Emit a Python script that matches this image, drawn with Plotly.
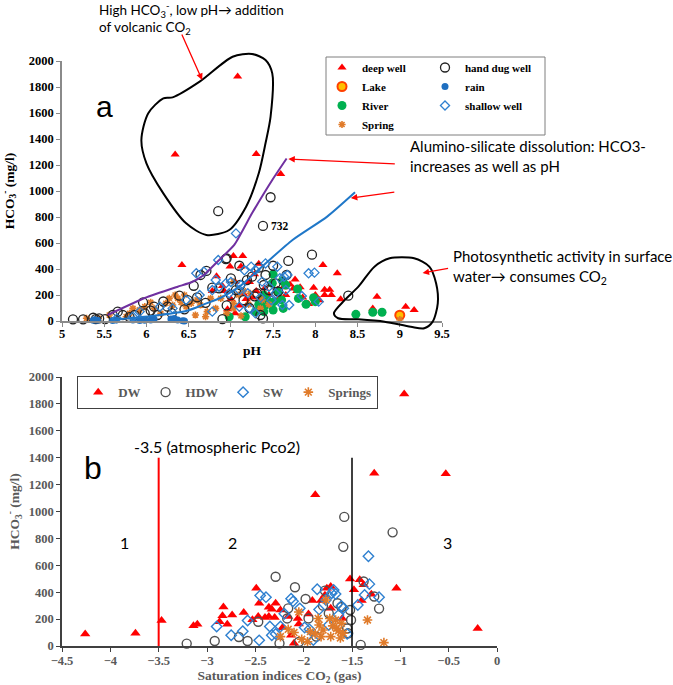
import plotly.graph_objects as go

W, H = 673, 685

# ---------------- Panel a : pH vs HCO3 ----------------
deep_well = [(7.08, 1880), (6.34, 1280), (7.30, 1285), (7.59, 1130), (6.42, 430), (7.03, 500), (7.14, 500),
             (6.99, 420), (7.12, 420), (7.33, 440), (7.28, 360), (6.83, 345), (6.78, 230), (6.90, 270),
             (7.05, 300), (7.22, 300), (7.30, 230), (7.40, 250), (7.48, 300), (7.55, 240), (7.62, 260),
             (7.70, 280), (7.74, 250), (7.78, 230), (7.82, 260), (7.76, 320), (7.98, 256), (8.00, 200),
             (8.09, 430), (8.11, 240), (8.17, 240), (8.19, 200), (8.11, 200), (8.26, 367), (8.30, 167),
             (8.73, 187), (8.68, 97), (9.07, 110), (9.17, 85), (7.00, 170), (7.10, 120), (7.18, 170),
             (7.26, 180), (6.96, 90), (7.05, 60), (7.20, 130), (7.35, 160), (7.45, 200), (7.58, 180),
             (7.65, 200), (7.85, 180), (7.92, 130), (8.05, 160), (6.92, 230), (7.15, 210)]
hand_dug_well = [(5.13, 13), (5.25, 13), (5.37, 25), (5.40, 15), (5.44, 20), (5.51, 15), (5.60, 46), (5.66, 72),
                 (5.72, 46), (5.86, 46), (5.96, 143), (5.98, 58), (6.09, 110), (6.13, 46), (6.25, 110),
                 (6.39, 195), (6.49, 161), (6.56, 271), (6.64, 354), (6.71, 385), (6.60, 182), (6.78, 256),
                 (6.86, 251), (6.94, 477), (6.90, 15), (7.00, 328), (7.38, 731), (6.95, 482), (7.10, 425),
                 (7.33, 410), (7.50, 425), (7.41, 354), (7.53, 290), (7.96, 510), (7.66, 354), (7.45, 238),
                 (7.00, 200), (7.06, 238), (7.11, 277), (7.19, 315), (7.25, 341), (7.31, 213), (7.39, 277),
                 (7.35, 46), (7.38, 20), (8.39, 195), (7.56, 226), (6.85, 845), (7.47, 952), (7.68, 462),
                 (6.30, 60), (6.45, 90), (6.70, 140), (6.95, 120), (7.15, 160), (7.22, 100), (7.28, 190),
                 (6.20, 150), (6.05, 80), (5.80, 30)]
lake = [(9.00, 45)]
rain = [(5.37, 5), (5.39, 10), (5.42, 6), (5.60, 4), (5.64, 8), (5.84, 8), (5.92, 4), (5.98, 6), (6.05, 8),
        (6.09, 16), (6.29, 16), (6.33, 20), (6.37, 8), (6.43, 2), (6.45, 0)]
river = [(6.98, 33), (7.17, 33), (7.39, 72), (7.41, 123), (7.50, 359), (7.49, 290), (7.39, 200), (7.43, 162),
         (7.51, 149), (7.60, 162), (7.62, 97), (7.50, 85), (7.79, 246), (7.89, 128), (7.98, 179), (8.00, 149),
         (8.48, 51), (8.68, 67), (8.79, 67), (7.33, 128), (7.29, 72), (7.56, 226), (7.65, 277), (7.61, 310),
         (7.80, 174)]
shallow_well = [(7.06, 674), (6.85, 469), (6.59, 367), (6.82, 315), (6.94, 290), (7.10, 238), (7.24, 418),
                (7.29, 392), (7.41, 443), (7.55, 418), (7.63, 341), (7.67, 354), (7.92, 367), (7.99, 372),
                (8.04, 149), (7.84, 192), (7.10, 110), (7.22, 97), (7.29, 59), (6.78, 72), (6.31, 97),
                (6.16, 110), (6.47, 162), (6.63, 200), (6.78, 238), (6.86, 264), (6.98, 213), (7.12, 277),
                (7.20, 213), (7.37, 303), (7.45, 264), (7.53, 213), (7.61, 123), (7.69, 123), (7.65, 238),
                (5.92, 72), (5.65, 20), (5.84, 33), (7.00, 300), (7.16, 390), (6.68, 380), (7.35, 180),
                (7.48, 160), (7.58, 330)]
spring = [(5.29, 21), (5.43, 21), (5.56, 46), (5.76, 33), (5.80, 59), (5.84, 97), (5.92, 85), (5.98, 110),
          (6.05, 144), (6.09, 97), (6.17, 59), (6.23, 136), (6.27, 174), (6.31, 123), (6.34, 200), (6.37, 174),
          (6.41, 144), (6.45, 200), (6.47, 110), (6.53, 136), (6.58, 46), (6.60, 162), (6.64, 123), (6.72, 72),
          (6.76, 174), (6.82, 97), (6.70, 33), (6.88, 174), (7.03, 302), (7.09, 200), (7.15, 231), (7.23, 213),
          (7.37, 162), (7.45, 128), (7.03, 136), (7.21, 128), (7.35, 97), (7.03, 97), (6.95, 60), (7.12, 40),
          (9.00, 10)]

# trend curves
curve_purple = [(5.54, 46), (5.98, 177), (6.37, 264), (6.54, 300), (6.68, 354), (6.84, 456), (7.04, 585),
                (7.25, 828), (7.49, 1085), (7.66, 1250)]
curve_blue = [(5.58, 8), (6.09, 41), (6.48, 79), (6.68, 128), (6.88, 179), (7.10, 264), (7.41, 443),
              (7.73, 623), (8.14, 803), (8.47, 990)]
# hand-drawn outlines (data units)
blob_volcanic = [(6.20, 1713), (6.31, 1720), (6.63, 1841), (7.02, 2033), (7.25, 2054), (7.41, 2008), (7.49, 1905),
                 (7.47, 1572), (7.41, 1367), (7.33, 1136), (7.18, 879), (6.98, 700), (6.71, 662), (6.47, 751),
                 (6.20, 982), (6.00, 1213), (5.94, 1392), (6.02, 1597), (6.20, 1713)]
blob_photo = [(8.88, 482), (9.17, 482), (9.35, 418), (9.43, 290), (9.45, 136), (9.39, -5), (9.29, -56),
              (9.13, -44), (8.82, -5), (8.51, 13), (8.27, 21), (8.22, 59), (8.35, 162), (8.51, 264),
              (8.70, 418), (8.88, 482)]

# ---------------- Panel b : SI CO2 vs HCO3 ----------------
dw_b = [(-4.26, 90), (-3.74, 95), (-3.47, 190), (-3.14, 150), (-3.10, 162), (-2.83, 290), (-2.84, 225),
        (-2.87, 180), (-2.79, 162), (-2.74, 230), (-2.62, 250), (-2.49, 430), (-2.46, 318), (-2.47, 220),
        (-2.53, 195), (-2.36, 288), (-2.33, 273), (-2.36, 220), (-2.40, 212), (-2.30, 212), (-2.29, 318),
        (-2.24, 268), (-2.22, 136), (-2.16, 220), (-2.13, 80), (-2.10, 20), (-2.06, 205), (-2.05, 163),
        (-1.95, 238), (-1.91, 338), (-1.88, 1125), (-1.82, 338), (-1.78, 378), (-1.76, 430), (-1.72, 443),
        (-1.72, 280), (-1.60, 205), (-1.52, 498), (-1.48, 418), (-1.42, 493), (-1.40, 338), (-1.38, 455),
        (-1.30, 385), (-1.27, 1285), (-1.04, 430), (-0.96, 1873), (-0.53, 1280), (-0.20, 130)]
hdw_b = [(-3.21, 18), (-2.92, 37), (-2.67, 67), (-2.58, 37), (-2.47, 180), (-2.29, 515), (-2.25, 20),
         (-2.17, 205), (-2.16, 280), (-2.09, 437), (-1.98, 350), (-1.95, 205), (-1.87, 70), (-1.78, 412),
         (-1.74, 243), (-1.65, 318), (-1.61, 290), (-1.59, 737), (-1.58, 960), (-1.54, 95), (-1.52, 268),
         (-1.51, 193), (-1.41, 8), (-1.38, 480), (-1.27, 368), (-1.22, 278), (-1.08, 845), (-1.80, 300),
         (-2.05, 30), (-1.55, 130)]
sw_b = [(-2.90, 145), (-2.75, 80), (-2.63, 110), (-2.58, 190), (-2.46, 42), (-2.45, 375), (-2.39, 363),
        (-2.35, 145), (-2.33, 80), (-2.29, 90), (-2.24, 145), (-2.13, 352), (-2.11, 332), (-2.04, 280),
        (-1.99, 138), (-1.94, 124), (-1.86, 422), (-1.84, 272), (-1.74, 156), (-1.71, 392), (-1.69, 416),
        (-1.67, 387), (-1.64, 230), (-1.61, 297), (-1.59, 280), (-1.44, 305), (-1.37, 380), (-1.33, 667),
        (-1.32, 460), (-1.22, 362), (-1.77, 342), (-1.90, 45), (-2.20, 240), (-1.55, 90)]
springs_b = [(-2.24, 70), (-2.16, 124), (-2.05, 253), (-2.02, 50), (-1.96, 32), (-1.93, 107), (-1.85, 205),
             (-1.84, 156), (-1.82, 70), (-1.80, 119), (-1.77, 342), (-1.73, 205), (-1.72, 70), (-1.67, 193),
             (-1.66, 131), (-1.64, 114), (-1.61, 168), (-1.59, 95), (-1.34, 193), (-1.17, 25), (-1.88, 90),
             (-1.70, 150), (-2.10, 100), (-1.62, 60)]
atm_pco2 = -3.5
boundary_23 = -1.5
line_top = 1400

ticks_ph = [5, 5.5, 6, 6.5, 7, 7.5, 8, 8.5, 9, 9.5]
ticks_si = [-4.5, -4, -3.5, -3, -2.5, -2, -1.5, -1, -0.5, 0]
ticks_hco3 = list(range(0, 2001, 200))


def xs(p):
    return [v[0] for v in p]


def ys(p):
    return [v[1] for v in p]


RED = "#FF0000"
BLUE = "#2F80D0"
ORANGE = "#E07B2A"
GREEN = "#00B050"
SERIF = "Liberation Serif"
SANS = "Lato"

fig = go.Figure()


def pts(data, name, marker, xa="x", ya="y", legend="legend"):
    fig.add_trace(go.Scatter(x=xs(data), y=ys(data), mode="markers", name=name, marker=marker,
                             xaxis=xa, yaxis=ya, legend=legend, cliponaxis=False))


# panel a traces (legend column 1 / column 2)
pts(deep_well, "deep well", dict(symbol="triangle-up", color=RED, size=8), legend="legend")
pts(lake, "Lake", dict(symbol="circle", color="#FFC000", size=9, line=dict(color="#FF4000", width=2)), legend="legend")
pts(river, "River", dict(symbol="circle", color=GREEN, size=9), legend="legend")
pts(spring, "Spring", dict(symbol="asterisk-open", color=ORANGE, size=6, line=dict(color=ORANGE, width=1.6)), legend="legend")
pts(hand_dug_well, "hand dug well", dict(symbol="circle-open", color="#222222", size=9, line=dict(width=1.3)), legend="legend2")
pts(rain, "rain", dict(symbol="circle", color="#1F6FC0", size=7), legend="legend2")
pts(shallow_well, "shallow well", dict(symbol="diamond-open", color=BLUE, size=7, line=dict(width=1.3)), legend="legend2")

fig.add_trace(go.Scatter(x=xs(curve_purple), y=ys(curve_purple), mode="lines", showlegend=False,
                         line=dict(color="#7030A0", width=2, shape="spline", smoothing=0.5)))
fig.add_trace(go.Scatter(x=xs(curve_blue), y=ys(curve_blue), mode="lines", showlegend=False,
                         line=dict(color="#1F77C8", width=2, shape="spline", smoothing=0.6)))
for blob in (blob_volcanic, blob_photo):
    fig.add_trace(go.Scatter(x=xs(blob), y=ys(blob), mode="lines", showlegend=False, xaxis="x3", yaxis="y3",
                             line=dict(color="black", width=2, shape="spline", smoothing=0.8)))

# panel b traces
pts(dw_b, "DW", dict(symbol="triangle-up", color=RED, size=9), xa="x2", ya="y2", legend="legend3")
pts(hdw_b, "HDW", dict(symbol="circle-open", color="#505050", size=9, line=dict(width=1.4)), xa="x2", ya="y2", legend="legend3")
pts(sw_b, "SW", dict(symbol="diamond-open", color=BLUE, size=8, line=dict(width=1.4)), xa="x2", ya="y2", legend="legend3")
pts(springs_b, "Springs", dict(symbol="asterisk-open", color=ORANGE, size=8, line=dict(color=ORANGE, width=1.6)),
    xa="x2", ya="y2", legend="legend3")

# ---------------- layout ----------------
dom_ax = [62 / W, 442 / W]
dom_ay = [1 - 321 / H, 1 - 61 / H]
dom_bx = [62 / W, 497 / W]
dom_by = [1 - 646 / H, 1 - 377 / H]
rng_ax = [5, 9.5]
rng_y = [0, 2000]
rng_bx = [-4.5, 0]


def widen(dom, rng, pad):
    k = (rng[1] - rng[0]) / (dom[1] - dom[0])
    return [dom[0] - pad, dom[1] + pad], [rng[0] - pad * k, rng[1] + pad * k]


ov_xd, ov_xr = widen(dom_ax, rng_ax, 0.03)
ov_yd, ov_yr = widen(dom_ay, rng_y, 0.03)

tick_a = dict(family=SERIF, size=12.5, color="black", weight="bold")
tick_b = dict(family=SERIF, size=12.5, color="#595959", weight="bold")
title_a = dict(family=SERIF, size=13.5, color="black", weight="bold")
title_b = dict(family=SERIF, size=13.5, color="#595959", weight="bold")

common_a = dict(showgrid=False, zeroline=False, showline=True, linecolor="#8A8A8A", linewidth=1.5,
                ticks="outside", ticklen=4, tickcolor="#8A8A8A", tickfont=tick_a, automargin=False)
common_b = dict(showgrid=False, zeroline=False, showline=True, linecolor="#404040", linewidth=1.5,
                ticks="outside", ticklen=4, tickcolor="#404040", tickfont=tick_b, automargin=False)

fig.update_layout(
    width=W, height=H, template="none",
    margin=dict(l=0, r=0, t=0, b=0, autoexpand=False),
    paper_bgcolor="white", plot_bgcolor="rgba(0,0,0,0)",
    xaxis=dict(domain=dom_ax, range=rng_ax, tickvals=ticks_ph, anchor="y", ticklabelstandoff=-4,
               title=dict(text="pH", font=title_a, standoff=6), **common_a),
    yaxis=dict(domain=dom_ay, range=rng_y, tickvals=ticks_hco3, anchor="x",
               title=dict(text="HCO<sub>3</sub><sup>-</sup> (mg/l)", font=title_a, standoff=12), **common_a),
    xaxis2=dict(domain=dom_bx, range=rng_bx, tickvals=ticks_si, anchor="y2", ticklabelstandoff=-2,
                title=dict(text="Saturation indices CO<sub>2</sub> (gas)", font=title_b, standoff=7), **common_b),
    yaxis2=dict(domain=dom_by, range=rng_y, tickvals=ticks_hco3, anchor="x2",
                title=dict(text="HCO<sub>3</sub><sup>-</sup> (mg/l)", font=title_b, standoff=6), **common_b),
    xaxis3=dict(domain=ov_xd, range=ov_xr, visible=False, anchor="y3"),
    yaxis3=dict(domain=ov_yd, range=ov_yr, visible=False, anchor="x3"),
    legend=dict(x=322 / W, y=1 - 53 / H, xanchor="left", yanchor="top", bgcolor="rgba(0,0,0,0)",
                font=dict(family=SERIF, size=11, color="black", weight="bold"), tracegroupgap=0, borderwidth=0),
    legend2=dict(x=425 / W, y=1 - 53 / H, xanchor="left", yanchor="top", bgcolor="rgba(0,0,0,0)",
                 font=dict(family=SERIF, size=11, color="black", weight="bold"), tracegroupgap=0, borderwidth=0),
    legend3=dict(x=77 / W, y=1 - 376 / H, xanchor="left", yanchor="top", orientation="h", bgcolor="white",
                 bordercolor="#404040", borderwidth=1.2,
                 font=dict(family=SERIF, size=13, color="#595959", weight="bold")),
    showlegend=True,
)

# legend frame of panel a
fig.add_shape(type="rect", xref="paper", yref="paper", x0=326 / W, x1=545 / W, y0=1 - 135 / H, y1=1 - 57 / H,
              line=dict(color="#7F7F7F", width=1))

# reference lines panel b
fig.add_shape(type="line", xref="x2", yref="y2", x0=atm_pco2, x1=atm_pco2, y0=0, y1=line_top,
              line=dict(color=RED, width=2))
fig.add_shape(type="line", xref="x2", yref="y2", x0=boundary_23, x1=boundary_23, y0=0, y1=line_top,
              line=dict(color="black", width=1.5))

ann = []
# panel a texts
ann.append(dict(xref="paper", yref="paper", x=97 / W, y=1 + 2 / H, xanchor="left", yanchor="top", align="left",
                text="High HCO<sub>3</sub><sup>-</sup>, low pH→ addition<br>of volcanic CO<sub>2</sub>",
                showarrow=False, font=dict(family=SANS, size=13.5, color="black")))
ann.append(dict(xref="x", yref="y", x=5.5, y=1650, text="a", showarrow=False,
                font=dict(family="Liberation Sans", size=30, color="black")))
ann.append(dict(xref="x", yref="y", x=7.45, y=731, xanchor="left", text="732", showarrow=False,
                font=dict(family=SERIF, size=11.5, color="black", weight="bold")))
ann.append(dict(xref="paper", yref="paper", x=408 / W, y=1 - 135 / H, xanchor="left", yanchor="top", align="left",
                text="Alumino-silicate dissolution: HCO3-<br>increases as well as pH", showarrow=False,
                font=dict(family=SANS, size=15, color="black")))
ann.append(dict(xref="paper", yref="paper", x=451 / W, y=1 - 245 / H, xanchor="left", yanchor="top", align="left",
                text="Photosynthetic activity in surface<br>water→ consumes CO<sub>2</sub>", showarrow=False,
                font=dict(family=SANS, size=15, color="black")))
arrow = dict(showarrow=True, arrowhead=2, arrowsize=1, arrowwidth=1.3, arrowcolor=RED, text="", xref="x", yref="y")
ann.append(dict(x=6.66, y=1854, ax=-21, ay=-47, **arrow))
ann.append(dict(x=7.68, y=1246, ax=108, ay=5, **arrow))
ann.append(dict(x=8.42, y=946, ax=45, ay=-6, **arrow))
ann.append(dict(x=9.27, y=369, ax=27, ay=-5, **arrow))
# panel b texts
ann.append(dict(xref="x2", yref="y2", x=-2.9, y=1480, text="-3.5 (atmospheric Pco2)", showarrow=False,
                font=dict(family=SANS, size=16, color="black")))
ann.append(dict(xref="x2", yref="y2", x=-4.18, y=1323, text="b", showarrow=False,
                font=dict(family="Liberation Sans", size=32, color="black")))
for lbl, xv in (("1", -3.85), ("2", -2.74), ("3", -0.51)):
    ann.append(dict(xref="x2", yref="y2", x=xv, y=766, text=lbl, showarrow=False,
                    font=dict(family=SANS, size=16, color="black")))
fig.update_layout(annotations=ann)

fig.write_html("out.html", config={"displayModeBar": False},
               post_script="document.body.style.margin='0';document.body.style.overflow='hidden';")
